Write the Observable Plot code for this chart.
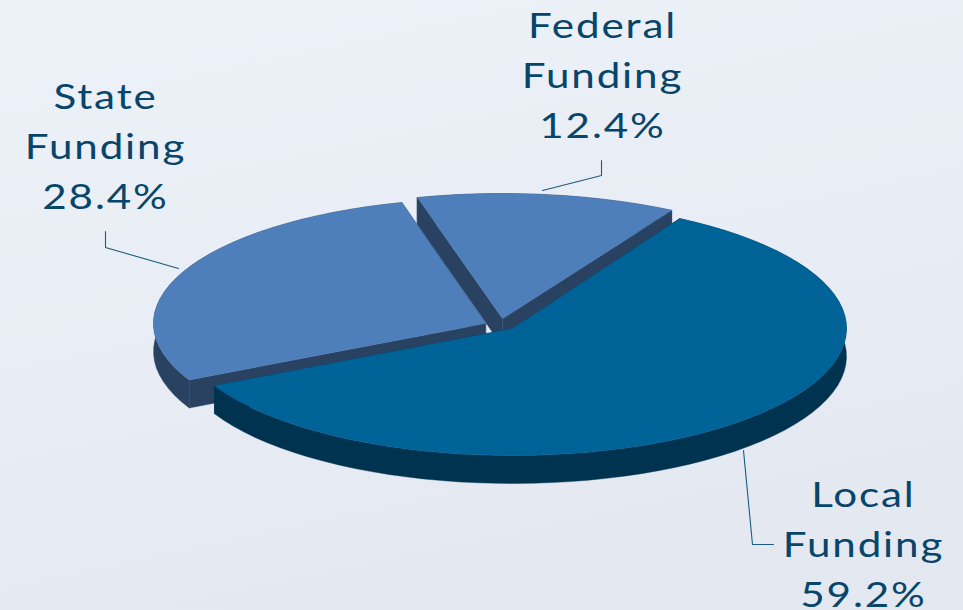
<!DOCTYPE html>
<html>
<head>
<meta charset="utf-8">
<script src="https://cdn.jsdelivr.net/npm/d3@7"></script>
<script src="https://cdn.jsdelivr.net/npm/@observablehq/plot@0.6"></script>
<style>
html,body{margin:0;padding:0;overflow:hidden;background:#e8ecf4}
</style>
</head>
<body>
<div id="chart"></div>
<script>
const categories = ["Federal Funding", "Local Funding", "State Funding"];
const shares = [12.4, 59.2, 28.4];
const drawOrder = [0, 2, 1];
const topColors = ["#4f7fba", "#006398", "#4f7fba"];
const wallColors = ["#2a4262", "#00334f", "#2a4262"];
const centersX = [502, 512, 485];
const centersY = [318, 328, 323];
const radiiX = [338, 334, 332];
const radiiY = [125, 127, 125];
const labelX = [602, 863, 105];
const labelY = [137, 606, 208];
const leaderX = [[601,601,542],[773,752,743],[105,105,178]];
const leaderY = [[160,175,190],[544,544,450],[231,247,268]];
const startAngle = 104.6, depth = 28, stepDeg = 3.2;
const total = d3.sum(shares);

let cursor = startAngle;
const slices = categories.map((name, i) => {
  const a0 = cursor, a1 = cursor - shares[i] / total * 360;
  cursor = a1;
  const n = Math.max(2, Math.ceil((a0 - a1) / stepDeg));
  const arc = d3.range(n + 1).map(k => {
    const t = (a0 + (a1 - a0) * k / n) * Math.PI / 180;
    return {x: centersX[i] + radiiX[i] * Math.cos(t), y: centersY[i] - radiiY[i] * Math.sin(t)};
  });
  return {name, i, arc, apex: {x: centersX[i], y: centersY[i]}};
});
const drop = p => ({x: p.x, y: p.y + depth});
const poly = (pts, fill) => Plot.line(pts, {x: "x", y: "y", fill, stroke: fill, strokeWidth: 0.4, curve: "linear-closed"});

const marks = [];
for (const idx of drawOrder) {
  const s = slices[idx];
  const wall = wallColors[s.i];
  const first = s.arc[0], last = s.arc[s.arc.length - 1];
  marks.push(poly([...s.arc, ...s.arc.map(drop).reverse()], wall));
  marks.push(poly([s.apex, first, drop(first), drop(s.apex)], wall));
  marks.push(poly([s.apex, last, drop(last), drop(s.apex)], wall));
  marks.push(poly([s.apex, ...s.arc], topColors[s.i]));
}
categories.forEach((name, i) => {
  const pts = leaderX[i].map((x, k) => ({x, y: leaderY[i][k]}));
  marks.push(Plot.line(pts, {x: "x", y: "y", stroke: "#1b5c82", strokeWidth: 1.1, curve: "linear"}));
});
const labels = categories.map((name, i) => ({
  text: name.replace(" ", "\n") + "\n" + shares[i].toFixed(1) + "%",
  x: labelX[i], y: labelY[i]
}));
marks.push(Plot.text(labels, {
  x: "x", y: "y", text: "text", textAnchor: "middle", lineAnchor: "bottom",
  lineHeight: 50.0 / 34, fontSize: 34, fill: "#07456b", fontFamily: "Lato", fontWeight: 400
}));

const chart = Plot.plot({
  width: 963, height: 610, margin: 0,
  x: {domain: [0, 963], range: [0, 963], axis: null},
  y: {domain: [0, 610], range: [0, 610], axis: null},
  style: {letterSpacing: "1.5px", background: "linear-gradient(168deg,#edf1f8 0%,#e8ecf4 50%,#e2e7f0 100%)"},
  marks
});
chart.querySelectorAll("text").forEach(t => {
  t.setAttribute("transform", (t.getAttribute("transform") || "") + " scale(1.24,1)");
});
document.getElementById("chart").appendChild(chart);
</script>
</body>
</html>
